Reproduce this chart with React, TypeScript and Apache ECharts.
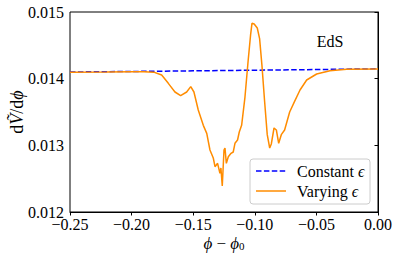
import React, { useEffect, useRef } from "react";
import * as echarts from "echarts";

const phiVarying = [
  -0.25, -0.22, -0.2, -0.19, -0.182, -0.1756, -0.1702, -0.1648, -0.1602, -0.1553, -0.152, -0.1494,
  -0.1459, -0.1418, -0.139, -0.1364, -0.1337, -0.1323, -0.1302, -0.1283, -0.1275, -0.1264, -0.125,
  -0.1242, -0.1231, -0.1215, -0.1193, -0.1175, -0.1161, -0.114, -0.1126, -0.1107, -0.108, -0.1055,
  -0.1034, -0.1023, -0.1005, -0.098, -0.0961, -0.0942, -0.092, -0.0899, -0.0879, -0.0866, -0.0844,
  -0.0825, -0.0806, -0.0785, -0.0758, -0.0717, -0.0677, -0.0633, -0.0579, -0.0498, -0.039, -0.0254, 0,
];
const vVarying = [
  0.014095, 0.0141, 0.014104, 0.014105, 0.014098, 0.014055, 0.01393, 0.0138, 0.013745, 0.0138, 0.01388, 0.0138,
  0.01353, 0.0133, 0.01318, 0.01293, 0.01281, 0.01268, 0.01273, 0.01258, 0.01266, 0.01239, 0.01293,
  0.01296, 0.01273, 0.01283, 0.01288, 0.0129, 0.01303, 0.01308, 0.0132, 0.0133, 0.01372, 0.01425,
  0.01466, 0.01483, 0.01482, 0.01476, 0.0146, 0.0142, 0.01365, 0.01316, 0.01296, 0.01302, 0.01326,
  0.01323, 0.01303, 0.01316, 0.01323, 0.0135, 0.01366, 0.01383, 0.01398, 0.01407, 0.01412, 0.01414, 0.014145,
];
const phiConstant = [-0.25, -0.2, -0.15, -0.1, -0.05, 0];
const vConstant = [0.0141, 0.014108, 0.014117, 0.014127, 0.014137, 0.014148];

const xTicks = [-0.25, -0.2, -0.15, -0.1, -0.05, 0];
const yTicks = [0.012, 0.013, 0.014, 0.015];
const legendNames = ["Constant", "Varying"];

const FONT = "Liberation Serif";
const BLUE = "#0000ff";
const ORANGE = "#ff8c00";

export default function App() {
  const ref = useRef<HTMLDivElement>(null);
  useEffect(() => {
    if (!ref.current) return;
    const chart = echarts.init(ref.current, undefined, { renderer: "svg" });
    const fmtX = (v: number) => {
      const s = Math.abs(v).toFixed(2);
      return v < -1e-9 ? "\u2212" + s : s;
    };
    const legendText = (name: string, y: number) => ({
      type: "text",
      z: 10,
      x: 297,
      y,
      style: {
        text: name + " {e|\u03F5}",
        fontFamily: FONT,
        fontSize: 16,
        fill: "#000",
        textAlign: "left",
        textVerticalAlign: "middle",
        rich: { e: { fontFamily: FONT, fontStyle: "italic", fontSize: 16, fill: "#000" } },
      },
    });
    chart.setOption({
      animation: false,
      backgroundColor: "#fff",
      grid: {
        left: 70,
        right: 20,
        top: 12,
        bottom: 46,
        show: true,
        borderColor: "#000",
        borderWidth: 1,
        backgroundColor: "transparent",
      },
      xAxis: {
        type: "value",
        min: xTicks[0],
        max: xTicks[xTicks.length - 1],
        interval: 0.05,
        axisLine: { show: true, lineStyle: { color: "#000", width: 1 } },
        axisTick: { show: true, length: 3.5, lineStyle: { color: "#000" } },
        splitLine: { show: false },
        axisLabel: {
          formatter: fmtX,
          fontFamily: FONT,
          fontSize: 16,
          lineHeight: 12,
          color: "#000",
          margin: 6,
        },
      },
      yAxis: {
        type: "value",
        min: yTicks[0],
        max: yTicks[yTicks.length - 1],
        interval: 0.001,
        axisLine: { show: true, lineStyle: { color: "#000", width: 1 } },
        axisTick: { show: true, length: 3.5, lineStyle: { color: "#000" } },
        splitLine: { show: false },
        axisLabel: {
          formatter: (v: number) => v.toFixed(3),
          fontFamily: FONT,
          fontSize: 16,
          lineHeight: 11,
          color: "#000",
          margin: 6,
        },
      },
      graphic: [
        {
          type: "rect",
          z: 9,
          shape: { x: 250, y: 159, width: 120, height: 45, r: 3 },
          style: { fill: "rgba(255,255,255,0.8)", stroke: "#cccccc", lineWidth: 1 },
        },
        {
          type: "line",
          z: 10,
          shape: { x1: 256, y1: 171, x2: 286, y2: 171 },
          style: { stroke: BLUE, lineWidth: 1.5, lineDash: [5.5, 2.4] },
        },
        {
          type: "line",
          z: 10,
          shape: { x1: 256, y1: 191, x2: 286, y2: 191 },
          style: { stroke: ORANGE, lineWidth: 1.5 },
        },
        legendText(legendNames[0], 171),
        legendText(legendNames[1], 191),
        {
          type: "text",
          x: 330,
          y: 41,
          style: {
            text: "EdS",
            fontFamily: FONT,
            fontSize: 16,
            fill: "#000",
            textAlign: "center",
            textVerticalAlign: "middle",
          },
        },
        {
          type: "text",
          x: 224,
          y: 243,
          style: {
            text: "{i|\u03D5} \u2212 {i|\u03D5}{s|0}",
            fontFamily: FONT,
            fontSize: 17,
            fill: "#000",
            textAlign: "center",
            textVerticalAlign: "middle",
            rich: {
              i: { fontFamily: FONT, fontStyle: "italic", fontSize: 17, fill: "#000" },
              s: { fontFamily: FONT, fontSize: 11, fill: "#000", padding: [5, 0, 0, 0] },
            },
          },
        },
        {
          type: "text",
          x: 17,
          y: 112,
          rotation: Math.PI / 2,
          style: {
            text: "d{i|\u1E7C}/d{i|\u03D5}",
            fontFamily: FONT,
            fontSize: 18,
            fill: "#000",
            textAlign: "center",
            textVerticalAlign: "middle",
            rich: {
              i: { fontFamily: FONT, fontStyle: "italic", fontSize: 18, fill: "#000" },
            },
          },
        },
      ],
      series: [
        {
          name: legendNames[0],
          type: "line",
          symbol: "none",
          z: 2,
          data: phiConstant.map((p, i) => [p, vConstant[i]]),
          lineStyle: { color: BLUE, width: 1.5, type: [5.5, 2.4] },
          itemStyle: { color: BLUE },
        },
        {
          name: legendNames[1],
          type: "line",
          symbol: "none",
          z: 3,
          data: phiVarying.map((p, i) => [p, vVarying[i]]),
          lineStyle: { color: ORANGE, width: 1.5 },
          itemStyle: { color: ORANGE },
        },
      ],
    });
    return () => chart.dispose();
  }, []);
  return (
    <div
      ref={ref}
      style={{ position: "absolute", left: 0, top: 0, width: 398, height: 258 }}
    />
  );
}
